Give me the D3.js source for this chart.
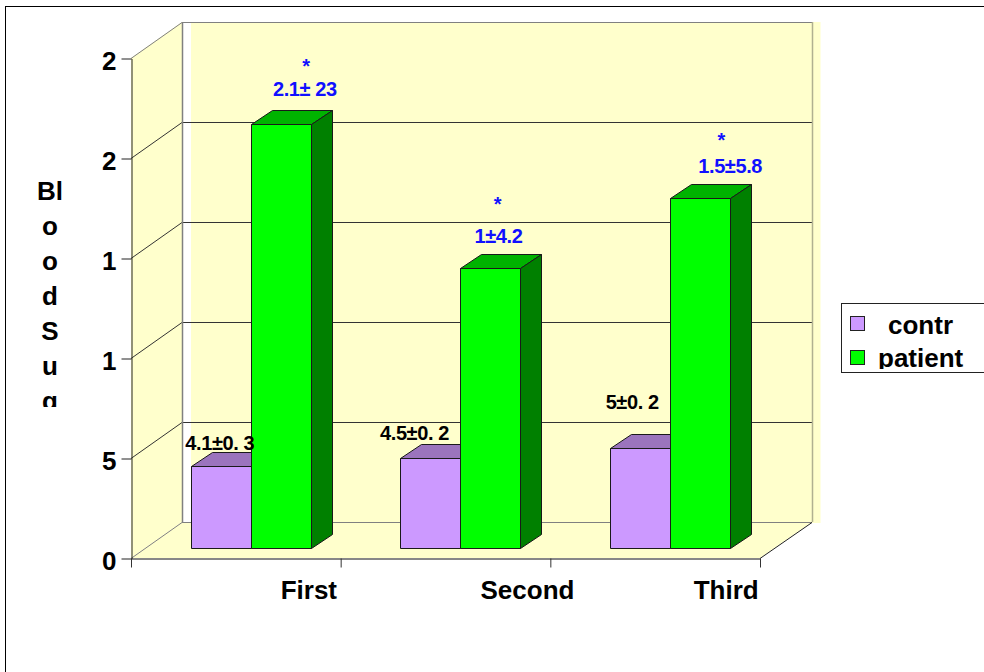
<!DOCTYPE html>
<html lang="en">
<head>
    <meta charset="UTF-8">
    <title>Blood Sugar by Stage</title>
    <script src="https://d3js.org/d3.v7.min.js"></script>
    <style>
        body { margin: 0; background: #fff; }
        svg { display: block; font-family: 'Liberation Sans', Arial, sans-serif; font-weight: bold; }
        .big { font-size: 26px; fill: #000; }
        .value { font-size: 20px; letter-spacing: -0.4px; text-anchor: middle; }
        .blue { fill: #1010ff; }
    </style>
</head>
<body>
    <div id="chart"></div>
    <script>
        // Chart values
        const categories = ["First", "Second", "Third"];
        const seriesNames = ["contr", "patient"];
        const contrValues = [4.1, 4.5, 5];
        const patientValues = [21.2, 14, 17.5];
        const contrLabels = ["4.1±0. 3", "4.5±0. 2", "5±0. 2"];
        const patientLabels = ["2.1± 23", "1±4.2", "1.5±5.8"];
        const yTickValues = [0, 5, 10, 15, 20, 25];
        const yTickLabels = ["0", "5", "1", "1", "2", "2"];
        const titleLetters = ["Bl", "o", "o", "d", "S", "u", "g"];

        // Label nudges relative to the top of each bar
        const contrLabelShift = [[-1, -16], [-16, -18], [-8, -39]];
        const patientLabelShift = [[24, -28], [8, -25], [30, -25]];
        const starShift = [[25, -51], [7, -57], [21, -51]];
        const xLabelShift = [73, 82, 71];

        const wallFill = "#ffffcc";
        const colors = {
            contr: { front: "#cc99ff", top: "#9b74bd", side: "#7a5a99" },
            patient: { front: "#00ff00", top: "#00b300", side: "#008000" }
        };

        const svg = d3.select("#chart").append("svg")
            .attr("width", 984)
            .attr("height", 672);

        // Outer frame runs off the right and bottom of the page
        svg.append("rect")
            .attr("x", 5.5).attr("y", 6.5)
            .attr("width", 1100).attr("height", 800)
            .attr("fill", "#fff").attr("stroke", "#000");

        const left = 131, right = 760, depthX = 51, depthY = 36;
        const y = d3.scaleLinear().domain([0, 25]).range([558, 58]);
        const x0 = d3.scaleBand().domain(categories).range([left, right]);
        const xEdges = d3.scaleLinear().domain([0, 3]).range([left, right]);
        const x1 = d3.scaleBand().domain(seriesNames).range([0, 120]);
        const groupStart = (x0.bandwidth() - 120) / 2 + 15;

        const line = d3.line();
        const poly = pts => line(pts) + "Z";

        // Walls and floor
        svg.append("rect")
            .attr("x", left + depthX + 9).attr("y", y(25) - depthY)
            .attr("width", right - left + 0.5 + 0).attr("height", y(0) - y(25) + 1)
            .attr("fill", wallFill);
        svg.append("path")
            .attr("d", poly([[left, y(25)], [left + depthX, y(25) - depthY], [left + depthX, y(0) - depthY], [left, y(0)]]))
            .attr("fill", wallFill);
        svg.append("path")
            .attr("d", poly([[left, y(0)], [left + depthX, y(0) - depthY], [right + depthX + 1, y(0) - depthY], [right, y(0)]]))
            .attr("fill", wallFill);

        // Gridlines along the side wall and the back wall
        yTickValues.forEach(v => {
            const topOrBottom = v === 25 || v === 0;
            const gy = Math.round(y(v)) + 0.5;
            svg.append("path")
                .attr("d", line([[left, gy], [left + depthX, gy - depthY], [right + depthX + 1, gy - depthY]]))
                .attr("fill", "none")
                .attr("stroke", topOrBottom ? "#808080" : "#333")
                .attr("stroke-width", 1);
        });
        svg.append("line")
            .attr("x1", left + depthX + 0.5).attr("x2", left + depthX + 0.5)
            .attr("y1", y(25) - depthY).attr("y2", y(0) - depthY)
            .attr("stroke", "#808080").attr("stroke-width", 1.5);
        svg.append("line")
            .attr("x1", right + depthX + 1.5).attr("x2", right + depthX + 1.5)
            .attr("y1", y(25) - depthY).attr("y2", y(0) - depthY)
            .attr("stroke", "#b0b090").attr("stroke-width", 1.5);
        svg.append("line")
            .attr("x1", right).attr("y1", y(0) + 0.5)
            .attr("x2", right + depthX + 1).attr("y2", y(0) - depthY + 0.5)
            .attr("stroke", "#222");

        // Bars: front face, top and side, each sitting a little in from the front edge
        const barW = x1.bandwidth(), barBase = 10, barDx = 21, barDy = 14;
        const rows = [];
        categories.forEach((c, i) => {
            rows.push({ s: "contr", c, v: contrValues[i] });
            rows.push({ s: "patient", c, v: patientValues[i] });
        });
        const bars = svg.selectAll(".bar").data(rows).enter().append("g")
            .attr("class", "bar")
            .attr("stroke", "#1a1a1a")
            .attr("stroke-width", 1)
            .attr("stroke-linejoin", "round");
        const bx = d => Math.round(x0(d.c) + groupStart + x1(d.s)) + 0.5;
        const by = d => Math.round(y(d.v) - barBase) + 0.5;
        const base = Math.round(y(0) - barBase) + 0.5;
        bars.append("path")
            .attr("d", d => poly([[bx(d), by(d)], [bx(d) + barDx, by(d) - barDy], [bx(d) + barW + barDx, by(d) - barDy], [bx(d) + barW, by(d)]]))
            .attr("fill", d => colors[d.s].top);
        bars.append("path")
            .attr("d", d => poly([[bx(d) + barW, by(d)], [bx(d) + barW + barDx, by(d) - barDy], [bx(d) + barW + barDx, base - barDy], [bx(d) + barW, base]]))
            .attr("fill", d => colors[d.s].side);
        bars.append("rect")
            .attr("x", bx).attr("y", by)
            .attr("width", barW).attr("height", d => base - by(d))
            .attr("fill", d => colors[d.s].front);

        // Y axis
        const yAxis = svg.append("g")
            .attr("transform", `translate(${left + 0.5},0.5)`)
            .call(d3.axisLeft(y).tickValues(yTickValues).tickSize(10).tickSizeOuter(0)
                .tickPadding(5).tickFormat((d, i) => yTickLabels[i]));
        yAxis.select(".domain").attr("stroke", "#222");
        yAxis.selectAll("line").attr("stroke", "#222");
        yAxis.selectAll("text")
            .attr("class", "big")
            .attr("dy", "0.42em")
            .style("font-family", "inherit");

        // X axis: ticks on the band edges, labels placed by hand-tuned nudges
        const xAxis = svg.append("g")
            .attr("transform", `translate(0,${y(0) + 0.5})`)
            .call(d3.axisBottom(xEdges).tickValues([0, 1, 2, 3]).tickSize(9).tickSizeOuter(0).tickFormat(""));
        xAxis.select(".domain").attr("stroke", "#111");
        xAxis.selectAll("line").attr("stroke", "#333");
        svg.selectAll(".xlabel").data(categories).enter().append("text")
            .attr("class", "big xlabel")
            .attr("text-anchor", "middle")
            .attr("x", (d, i) => x0(d) + x0.bandwidth() / 2 + xLabelShift[i])
            .attr("y", 599)
            .text(d => d);

        // Value labels and significance stars
        const groupX = (c, s) => x0(c) + groupStart + x1(s) + barW / 2;
        svg.selectAll(".lab-contr").data(categories).enter().append("text")
            .attr("class", "value lab-contr")
            .attr("x", (d, i) => groupX(d, "contr") + contrLabelShift[i][0])
            .attr("y", (d, i) => y(contrValues[i]) - barBase + contrLabelShift[i][1])
            .text((d, i) => contrLabels[i]);
        svg.selectAll(".lab-patient").data(categories).enter().append("text")
            .attr("class", "value blue lab-patient")
            .attr("x", (d, i) => groupX(d, "patient") + patientLabelShift[i][0])
            .attr("y", (d, i) => y(patientValues[i]) - barBase + patientLabelShift[i][1])
            .text((d, i) => patientLabels[i]);
        svg.selectAll(".star").data(categories).enter().append("text")
            .attr("class", "value blue star")
            .attr("x", (d, i) => groupX(d, "patient") + starShift[i][0])
            .attr("y", (d, i) => y(patientValues[i]) - barBase + starShift[i][1])
            .text("*");

        // Vertical title, one fragment per row, cut off at the bottom
        svg.append("clipPath").attr("id", "title-clip")
            .append("rect").attr("x", 0).attr("y", 170).attr("width", 100).attr("height", 237);
        svg.append("g").attr("clip-path", "url(#title-clip)")
            .selectAll("text").data(titleLetters).enter().append("text")
            .attr("class", "big")
            .attr("text-anchor", "middle")
            .attr("x", 50)
            .attr("y", (d, i) => 200 + i * 35)
            .text(d => d);

        // Legend box, clipped along its lower edge
        svg.append("rect")
            .attr("x", 841.5).attr("y", 303.5)
            .attr("width", 200).attr("height", 69)
            .attr("fill", "#fff").attr("stroke", "#222");
        svg.append("clipPath").attr("id", "legend-clip")
            .append("rect").attr("x", 842).attr("y", 304).attr("width", 142).attr("height", 65);
        const legendX = [888, 878];
        const legend = svg.append("g").attr("clip-path", "url(#legend-clip)")
            .selectAll("g").data(seriesNames).enter().append("g");
        legend.append("rect")
            .attr("x", 850.5)
            .attr("y", (d, i) => 316.5 + i * 34)
            .attr("width", 14).attr("height", 14)
            .attr("fill", d => colors[d].front)
            .attr("stroke", "#222");
        legend.append("text")
            .attr("class", "big")
            .attr("x", (d, i) => legendX[i])
            .attr("y", (d, i) => 334 + i * 33)
            .text(d => d);
    </script>
</body>
</html>
